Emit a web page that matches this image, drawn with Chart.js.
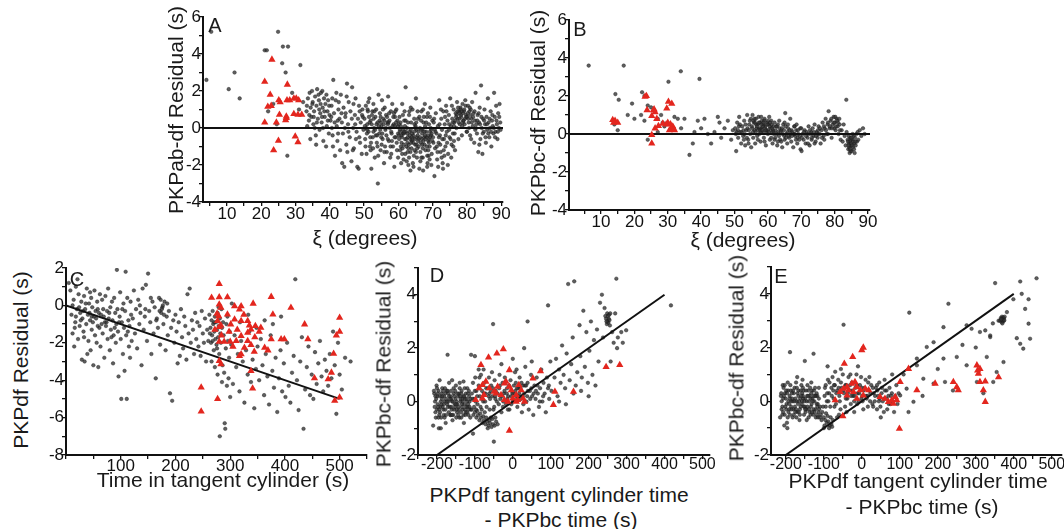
<!DOCTYPE html>
<html><head><meta charset="utf-8">
<script src="https://cdn.jsdelivr.net/npm/chart.js@4.4.1/dist/chart.umd.min.js"></script>
<style>
html,body{margin:0;padding:0;background:#fff}
body{width:1064px;height:529px;overflow:hidden;position:relative;font-family:"Liberation Sans",Arial,Helvetica,sans-serif;color:#1a1a1a}
canvas{position:absolute}
.t{position:absolute;white-space:nowrap;font-size:21px;line-height:1;transform:translate(-50%,-50%)}
.ty{transform:translate(-50%,-50%) rotate(-90deg)}
.L{position:absolute;font-size:20px;line-height:1;transform:translate(-50%,-50%)}
</style></head><body>
<canvas id="cA"></canvas><canvas id="cB"></canvas><canvas id="cC"></canvas><canvas id="cD"></canvas><canvas id="cE"></canvas>
<div class="t ty" style="left:175px;top:110px">PKPab-df Residual (s)</div>
<div class="t" style="left:365px;top:237px">ξ (degrees)</div>
<div class="t ty" style="left:537px;top:113px">PKPbc-df Residual (s)</div>
<div class="t" style="left:743px;top:239px">ξ (degrees)</div>
<div class="t ty" style="left:20px;top:360px">PKPdf Residual (s)</div>
<div class="t" style="left:223px;top:479px">Time in tangent cylinder (s)</div>
<div class="t ty" style="left:383px;top:364px">PKPbc-df Residual (s)</div>
<div class="t" style="left:559px;top:494px">PKPdf tangent cylinder time</div>
<div class="t" style="left:561px;top:519px">- PKPbc time (s)</div>
<div class="t ty" style="left:736px;top:358px">PKPbc-df Residual (s)</div>
<div class="t" style="left:918px;top:480px">PKPdf tangent cylinder time</div>
<div class="t" style="left:922px;top:506px">- PKPbc time (s)</div>
<div class="L" style="left:215px;top:25px">A</div>
<div class="L" style="left:580px;top:29px">B</div>
<div class="L" style="left:77px;top:279px">C</div>
<div class="L" style="left:437px;top:275px">D</div>
<div class="L" style="left:781px;top:276px">E</div>
<script>
// ---------- Panel A: PKPab-df residual vs xi ----------
const aXLabels = [10,20,30,40,50,60,70,80,90];
const aYLabels = [-4,-2,0,2,4,6];
const aZero = [[3,0],[90.5,0]];
const aRed = [[23.1,3.7],[21.0,2.5],[22.6,1.8],[27.6,2.35],[21.9,1.15],[22.9,1.2],[25.1,1.5],[25.5,1.4],[27.5,1.5],[28.3,1.5],[29.5,1.6],[30.2,1.6],[30.9,1.5],[25.3,0.72],[27.3,0.55],[27.1,0.42],[29.5,0.76],[30.7,0.72],[31.8,0.72],[21.0,0.3],[24.4,0.3],[25.0,-0.68],[23.6,-1.2],[29.9,-0.45],[30.7,-0.77],[27.3,0.63]];
const aBlack = [[4,2.6],[5.4,5.2],[10.5,2.1],[12.2,3.0],[13.7,1.6],[21,4.2],[21.6,4.2],[24.9,5.2],[26.1,3.5],[26.3,4.4],[27.8,4.4],[27.1,3.0],[31.4,3.4],[22,0.9],[23.5,1.3],[27.6,-1.5],[31,1.0],[32.2,1.4],[29,1.9],[24.5,0.2],
[33.2,0.9],[33.6,1.6],[33.9,0.4],[34.1,1.9],[34.4,1.1],[34.6,0.6],[34.8,2.0],[35.0,1.4],[35.2,0.2],[35.4,0.9],[35.7,1.7],[35.9,-0.4],[36.1,1.2],[36.3,2.1],[36.5,0.5],[36.8,1.5],[37.0,-0.1],[37.2,0.8],[37.4,1.9],[37.6,0.3],[37.9,1.1],[38.1,-0.7],[38.3,1.6],[38.5,0.6],[38.7,1.3],[38.9,-1.0],[39.1,0.1],[39.3,0.9],[39.5,1.5],[39.7,-0.3],[39.9,0.7],[34.3,-0.6],[36.0,-0.9],[37.8,2.0],[38.0,0.0],[35.6,0.0],[33.4,0.1],[36.9,1.0],[39.0,1.8],[34.9,1.3],
[33.3,1.2],[34.0,0.7],[35.3,0.6],[36.2,0.3],[36.7,1.8],[37.3,1.3],[37.7,0.6],[38.4,0.9],[39.4,0.4],[39.8,1.2],
[40.2,0.4],[40.5,1.2],[40.8,-0.4],[41.0,2.6],[41.2,0.8],[41.5,-1.5],[41.7,1.5],[42.0,0.1],[42.2,-0.7],[42.5,1.0],[42.8,0.5],[43.0,-1.2],[43.2,1.8],[43.5,0.3],[43.8,-0.3],[44.0,1.1],[44.2,-2.1],[44.5,0.6],[44.8,-0.9],[45.0,2.4],[45.3,0.2],[45.5,1.4],[45.8,-0.5],[46.0,0.9],[46.3,-1.8],[46.5,2.2],[46.8,0.0],[47.0,-1.1],[47.3,0.7],[47.5,1.6],[47.8,-0.2],[48.0,-2.1],[48.2,0.5],[48.5,1.2],[48.8,-0.8],[49.0,0.3],[49.3,-1.4],[49.5,1.0],[49.8,-0.1],[40.6,0.0],[41.9,1.9],[43.6,-1.9],[45.1,-1.3],[46.9,1.3],[48.4,-2.2],[49.6,0.6],[42.3,0.4],[44.6,0.8],[47.6,-0.6],[40.9,-1.0],
[40.4,0.6],[41.4,0.3],[42.4,-0.3],[43.4,0.8],[44.4,0.0],[45.4,-0.2],[46.4,0.5],[47.4,0.2],[48.6,-0.5],[49.4,0.7],[40.7,1.6],[42.6,1.4],[44.9,1.7],[46.7,-1.2],[48.7,0.9],
[50.1,0.5],[50.3,-0.6],[50.5,1.2],[50.7,-1.4],[50.9,0.2],[51.1,0.9],[51.3,-0.2],[51.5,1.6],[51.7,-1.0],[51.9,0.4],[52.1,-2.2],[52.3,0.7],[52.5,-0.5],[52.7,1.3],[52.9,0.0],[53.1,-1.6],[53.3,0.6],[53.5,1.0],[53.7,-0.8],[53.9,0.3],[54.0,-3.0],[54.2,1.8],[54.4,-0.3],[54.6,0.8],[54.8,-1.2],[55.0,0.1],[55.2,1.5],[55.4,-0.6],[55.6,0.5],[55.8,-1.9],[56.0,1.1],[56.2,-0.1],[56.4,0.7],[56.6,-1.3],[56.8,0.3],[57.0,1.7],[57.2,-0.7],[57.4,0.4],[57.6,-1.6],[57.8,0.9],[58.0,-0.3],[58.2,1.3],[58.4,-1.0],[58.6,0.2],[58.8,-2.1],[59.0,0.6],[59.2,-0.5],[59.4,1.0],[59.6,-1.2],[59.8,0.1],[50.6,0.0],[51.6,0.3],[52.6,-1.1],[53.6,0.2],[54.5,0.4],[55.5,1.0],[56.5,-0.4],[57.5,0.0],[58.5,0.6],[59.5,-0.8],[51.2,1.4],[52.4,0.9],[53.4,-0.4],[54.7,-0.1],[55.7,0.2],[56.7,0.6],[57.7,-1.0],[58.7,0.8],[59.7,0.4],[55.1,-0.9],
[50.2,0.1],[50.8,-0.3],[51.4,0.6],[51.8,-0.5],[52.2,0.2],[52.8,0.5],[53.2,-0.1],[53.8,-0.4],[54.3,0.1],[54.9,0.3],[55.3,-0.3],[55.9,0.4],[56.3,0.0],[56.9,-0.6],[57.3,0.8],[57.9,-0.2],[58.3,0.1],[58.9,-0.5],[59.3,0.3],[59.9,-0.3],[50.4,-1.0],[51.0,1.0],[52.0,-0.8],[53.0,0.9],[54.1,-1.5],[55.0,-0.5],[56.1,-1.0],[57.1,0.3],[58.1,-0.7],[59.1,0.9],[50.9,-0.1],[52.7,-0.2],[54.8,0.6],[56.9,0.2],[58.9,0.1],[51.9,-1.2],[53.9,-1.0],[55.9,-1.3],[57.9,-1.4],[59.9,-1.6],
[60.1,-0.4],[60.3,0.6],[60.5,-1.2],[60.7,0.1],[60.9,-0.8],[61.1,1.3],[61.3,-0.3],[61.5,-1.7],[61.7,0.4],[61.9,-0.6],[62.1,2.2],[62.3,-1.0],[62.5,0.0],[62.7,-0.5],[62.9,-2.0],[63.1,0.7],[63.3,-0.2],[63.5,-1.3],[63.7,0.3],[63.9,-0.7],[64.1,1.0],[64.3,-0.4],[64.5,-1.5],[64.7,0.2],[64.9,-0.9],[65.1,1.6],[65.3,-0.1],[65.5,-1.1],[65.7,0.5],[65.9,-0.6],[66.1,-2.2],[66.3,0.0],[66.5,-0.8],[66.7,0.9],[66.9,-0.3],[67.1,-1.6],[67.3,0.3],[67.5,-0.5],[67.7,1.3],[67.9,-1.2],[68.1,-0.2],[68.3,0.6],[68.5,-1.9],[68.7,-0.7],[68.9,0.2],[69.1,-1.0],[69.3,1.1],[69.5,-0.4],[69.7,-1.4],[69.9,0.4],
[60.4,-0.1],[61.0,-0.5],[61.6,-0.9],[62.2,-0.2],[62.8,0.3],[63.4,-0.6],[64.0,-0.3],[64.6,0.5],[65.2,-0.5],[65.8,-0.2],[66.4,-1.3],[67.0,-0.1],[67.6,-0.9],[68.2,-0.5],[68.8,-1.5],[69.4,0.0],[60.8,-1.9],[62.0,-1.4],[63.0,-0.9],[64.2,-1.9],[65.4,-1.6],[66.6,0.4],[67.8,0.1],[69.0,-0.6],[61.8,0.9],[63.6,1.1],[65.6,0.9],[67.2,-2.3],[68.4,-2.1],[69.6,-2.0],[60.6,0.3],[62.6,-0.8],[64.8,-0.6],[66.8,-0.6],[68.6,0.8],[61.4,-0.1],[63.8,-1.1],[65.0,0.1],[67.4,0.6],[69.2,-0.2],
[60.2,-0.6],[60.5,-0.2],[60.9,-0.4],[61.2,-1.1],[61.6,-0.3],[61.9,0.1],[62.3,-0.6],[62.6,-0.3],[62.9,-1.1],[63.3,-0.4],[63.6,-0.1],[63.9,-0.5],[64.3,-0.8],[64.6,-0.2],[64.9,0.0],[65.3,-0.9],[65.6,-0.4],[65.9,-1.0],[66.3,-0.5],[66.6,-0.1],[66.9,-0.9],[67.3,-0.7],[67.6,-0.2],[67.9,-0.6],[68.3,-1.0],[68.6,-0.4],[68.9,-0.8],[69.3,-0.5],[69.6,-0.1],[69.9,-0.7],[60.1,0.2],[61.1,-1.4],[62.1,0.4],[63.1,-1.6],[64.1,-0.6],[65.1,-1.3],[66.1,0.6],[67.1,-1.1],[68.1,0.3],[69.1,-1.7],[60.7,-1.0],[61.7,-0.2],[62.7,-1.3],[63.7,-0.8],[64.7,-1.2],[65.7,-0.7],[66.7,-1.6],[67.7,-0.4],[68.7,-1.2],[69.7,-0.3],[61.3,0.7],[63.2,0.9],[65.2,0.3],[67.2,1.0],[69.2,0.6],[62.4,-1.8],[64.4,-2.1],[66.4,-1.8],[68.4,-1.5],[63.5,-2.3],
[70.1,-0.5],[70.3,0.3],[70.5,-2.6],[70.7,-1.1],[70.9,0.8],[71.1,-0.3],[71.3,-1.7],[71.5,0.1],[71.7,-0.8],[71.9,1.5],[72.1,-0.4],[72.3,-1.3],[72.5,0.5],[72.7,-0.1],[72.9,-1.9],[73.1,0.9],[73.3,-0.6],[73.5,0.2],[73.7,-1.0],[73.9,1.2],[74.1,-0.2],[74.3,0.4],[74.5,-1.4],[74.7,0.7],[74.9,-0.5],[75.1,1.6],[75.3,0.1],[75.5,-0.9],[75.7,0.5],[75.9,-0.3],[76.1,1.0],[76.3,0.3],[76.5,-1.2],[76.7,0.8],[76.9,0.0],[77.1,1.4],[77.3,0.5],[77.5,-0.6],[77.7,0.9],[77.9,0.2],[78.1,1.1],[78.3,0.6],[78.5,-0.4],[78.7,1.3],[78.9,0.4],[79.1,0.9],[79.3,0.2],[79.5,1.5],[79.7,0.7],[79.9,-0.2],[70.6,-0.1],[72.0,0.2],[73.4,-1.5],[74.8,-0.1],[76.2,-0.7],[77.6,0.3],[78.8,0.8],[79.4,0.5],[78.2,1.0],[77.0,0.7],
[70.2,-0.8],[70.8,-0.2],[71.2,-1.0],[71.8,-0.5],[72.2,-0.9],[72.8,-0.6],[73.2,-1.2],[73.8,-0.4],[74.2,-0.8],[74.8,0.2],[75.2,-0.6],[75.8,0.3],[76.2,0.1],[76.8,0.6],[77.2,0.9],[77.8,0.5],[78.2,0.7],[78.8,0.3],[79.2,1.0],[79.8,0.6],[76.6,0.4],[77.4,1.1],[78.4,0.9],[79.0,0.4],[79.6,1.2],[78.6,0.1],[77.8,0.8],[76.4,-0.3],[75.4,-1.6],[74.4,-2.0],[73.6,0.6],[72.6,-1.6],[71.4,-1.3],[70.4,0.5],[71.6,-2.1],[72.4,1.0],[73.0,-2.2],[74.0,0.9],[75.6,1.2],[76.0,-1.0],
[80.1,0.6],[80.3,1.2],[80.5,0.3],[80.7,0.9],[80.9,-0.4],[81.1,1.0],[81.3,0.5],[81.5,1.4],[81.7,0.1],[81.9,0.8],[82.1,-0.8],[82.3,0.4],[82.5,1.9],[82.7,0.2],[82.9,-0.3],[83.1,0.7],[83.3,-1.3],[83.5,0.3],[83.7,1.1],[83.9,-0.6],[84.1,2.3],[84.3,0.0],[84.5,-1.4],[84.7,0.5],[84.9,-0.2],[85.1,1.0],[85.3,0.2],[85.5,-0.8],[85.7,0.6],[85.9,-0.1],[86.1,1.6],[86.3,0.3],[86.5,-0.5],[86.7,0.0],[86.9,0.9],[87.1,-1.0],[87.3,0.4],[87.5,0.1],[87.7,-0.3],[87.9,1.9],[88.1,0.6],[88.3,-0.2],[88.5,1.2],[88.7,0.2],[88.9,-0.6],[89.1,0.8],[89.3,0.0],[89.5,1.3],[89.7,0.3],[80.6,0.0],
[80.2,0.8],[80.4,0.5],[80.8,1.1],[81.0,0.7],[81.4,0.3],[81.8,0.6],[82.2,0.9],[82.6,0.0],[83.0,0.4],[83.4,0.8],[83.8,0.2],[84.2,0.6],[84.6,-0.3],[85.0,0.4],[85.4,-0.5],[85.8,0.2],[86.2,-0.3],[86.6,0.5],[87.0,-0.2],[87.4,0.7],[87.8,0.0],[88.2,-0.5],[88.6,0.4],[89.0,-0.2],[89.4,0.6],[89.8,-0.1],[80.0,-0.2],[81.2,-0.6],[82.4,-0.1],[83.6,-0.9]];

// ---------- Panel B: PKPbc-df residual vs xi ----------
const bXLabels = [10,20,30,40,50,60,70,80,90];
const bYLabels = [-4,-2,0,2,4,6];
const bZero = [[0.4,0],[90.6,0]];
const bRed = [[13.5,0.74],[14.2,0.7],[15.0,0.6],[13.8,0.6],[23.2,1.96],[23.6,2.0],[25.7,1.25],[26.2,1.15],[25.2,0.95],[26.7,0.8],[27.2,0.42],[26.2,0.3],[25.9,1.3],[30.2,1.7],[31.2,1.6],[29.7,1.35],[30.0,0.6],[31.0,0.3],[30.5,0.2],[31.5,0.4],[29.5,0.5],[32.0,0.2],[30.8,0.52],[25.2,-0.5],[25.2,-0.05],[23.8,1.26],[28.5,0.55],[31.8,0.25]];
const bBlack = [[6.3,3.6],[16.8,3.6],[14.3,2.1],[15.3,1.8],[19.3,1.6],[18,1.0],[22.3,2.2],[23.0,2.0],[30.2,2.75],[33.9,3.3],[39.5,2.9],[14,0.5],[15,0.2],[20,0.8],[22,1.0],[23,0.7],[24,1.5],[25,1.4],[26,1.2],[27,0.8],[28,1.0],[29,0.4],[24,-0.3],[27,0.1],[28.5,0.6],[32,0.9],[33,0.8],[34,0.3],[35,0.8],[36.5,-1.1],[37.5,-0.5],[38,0.1],[39,0.7],[40,0.3],[41,0.8],[42,0.0],[43,-0.5],[44,0.1],[45,0.9],[45.5,0.6],[46,-0.2],[47,0.3],[48,0.7],[49,-0.3],[49.5,0.2],
[50.2,0.3],[50.5,-0.9],[50.8,0.6],[51.1,-0.2],[51.4,0.9],[51.7,0.1],[52.0,-0.5],[52.3,0.4],[52.6,-0.1],[52.9,0.7],[53.2,-0.6],[53.5,0.2],[53.8,1.0],[54.1,-0.3],[54.4,0.5],[54.7,0.0],[55.0,-0.7],[50.4,0.0],[51.6,0.5],[52.8,-0.3],[53.9,0.3],[54.9,0.8],[51.0,0.2],[53.0,0.0],[54.2,-0.5],
[55.2,0.4],[55.4,1.0],[55.6,-0.2],[55.8,0.6],[56.0,0.2],[56.2,-0.5],[56.4,0.8],[56.6,0.3],[56.8,-0.1],[57.0,0.5],[57.2,0.9],[57.4,0.0],[57.6,0.6],[57.8,-0.4],[58.0,0.3],[58.2,0.7],[58.4,0.1],[58.6,0.5],[58.8,-0.2],[59.0,0.8],[59.2,0.4],[59.4,-0.6],[59.6,0.2],[59.8,0.6],[60.0,0.0],[60.2,0.5],[60.4,0.9],[60.6,-0.3],[60.8,0.3],[61.0,0.7],[61.2,0.1],[61.4,-0.5],[61.6,0.4],[61.8,0.0],[62.0,0.6],[55.5,0.1],[56.5,0.5],[57.5,0.3],[58.5,0.4],[59.5,0.1],[60.5,0.4],[61.5,0.2],[56.1,0.6],[57.1,0.2],[58.1,0.5],[59.1,0.3],[60.1,0.2],[61.1,0.5],[58.9,0.7],[57.9,0.1],
[62.2,-0.2],[62.5,0.4],[62.8,-0.6],[63.1,0.1],[63.4,0.7],[63.7,-0.3],[64.0,0.2],[64.3,-0.7],[64.6,0.5],[64.9,-0.1],[65.2,1.1],[65.5,0.0],[65.8,-0.5],[66.1,0.3],[66.4,-0.2],[66.7,0.8],[67.0,-0.4],[67.3,0.1],[67.6,-0.7],[67.9,0.4],[68.2,-0.1],[68.5,0.2],[68.8,-0.5],[69.1,0.0],[69.4,-0.3],[69.7,0.3],[62.6,0.0],[63.5,0.3],[64.4,0.0],[65.3,0.4],[66.2,-0.1],[67.1,0.2],[68.0,0.0],[68.9,-0.2],[69.8,-0.8],[63.0,-0.4],[65.0,-0.3],[66.8,0.0],[68.6,0.5],
[70.1,-0.9],[70.4,0.0],[70.7,-0.3],[71.0,0.2],[71.3,-0.5],[71.6,0.1],[71.9,-0.2],[72.2,0.4],[72.5,-0.6],[72.8,0.0],[73.1,-0.3],[73.4,0.3],[73.7,-0.1],[74.0,0.5],[74.3,-0.4],[74.6,0.1],[74.9,-0.2],[75.2,0.4],[75.5,0.0],[75.8,-0.5],[76.1,0.2],[76.4,0.6],[76.7,-0.1],[77.0,0.3],[77.3,0.8],[77.6,0.0],[77.9,0.5],[78.2,1.2],[78.5,0.3],[78.8,0.7],[79.1,-0.2],[79.4,0.5],[79.7,0.9],[80.0,0.6],[80.3,0.2],[80.6,0.8],[80.9,0.4],[81.2,0.0],[81.5,0.5],[81.8,-0.3],[73.0,0.1],[75.0,0.2],[76.9,-0.3],[78.0,0.0],[79.9,0.3],
[82.1,0.2],[82.4,-0.4],[82.7,0.5],[83.0,-0.1],[83.5,1.8],[83.3,-0.6],[83.6,0.1],[83.9,-0.3],[84.1,-0.8],[84.3,-0.5],[84.5,-1.0],[84.7,-0.2],[84.9,-0.6],[85.1,-0.9],[85.3,-0.3],[85.5,-0.7],[85.7,-0.1],[85.9,-0.5],[86.1,-0.2],[86.3,-0.6],[86.5,0.0],[86.7,-0.4],[86.9,0.1],[87.1,-0.3],[87.5,0.2],[88.0,-0.1],[88.5,0.3],[89.0,0.0],[84.2,-0.1],[84.8,-0.9],[85.4,0.0],[86.0,-1.0],[84.6,-0.4],[85.0,-0.5],
[50.6,0.1],[51.3,0.4],[52.1,0.1],[52.7,0.2],[53.3,0.5],[53.7,-0.2],[54.3,0.2],[54.6,0.7],[55.3,0.3],[55.7,0.7],[56.3,0.1],[56.7,0.4],[57.3,0.6],[57.7,0.2],[58.3,0.2],[58.7,0.6],[59.3,0.2],[59.7,0.5],[60.3,0.1],[60.7,0.6],[61.3,0.3],[61.7,0.1],[62.3,0.2],[62.7,0.4],[63.3,-0.1],[63.8,0.1],[64.2,0.3],[64.8,0.2],[65.4,-0.2],[65.9,0.1],[66.5,0.2],[67.2,-0.1],[67.8,0.0],[68.4,-0.3],[69.0,0.2],[69.6,-0.1],[70.2,-0.2],[70.8,0.1],[71.4,-0.1],[72.0,0.0],[72.6,0.2],[73.2,-0.2],[73.8,0.1],[74.4,-0.1],[75.0,0.0],[75.6,0.3],[76.2,-0.2],[76.8,0.4],[77.4,0.2],[78.0,0.6],[78.6,0.4],[79.2,0.3],[79.8,0.6],[80.4,0.4],[81.0,0.6],[81.6,0.2],[79.0,0.8],[80.2,0.9],[80.8,0.7],[81.4,0.8],[84.0,-0.4],[84.4,-0.7],[84.8,-0.3],[85.2,-0.6],[85.6,-0.4],[84.6,-0.8],[85.0,-0.2],[85.8,-0.8],[84.2,-0.6],[86.2,-0.4],[56.0,0.8],[58.0,0.9],[60.0,0.7],[62.0,-0.3],[64.0,-0.4],[66.0,0.5],[68.0,0.4],[70.0,0.3],[72.0,-0.5],[74.0,-0.5],[57.0,-0.3],[59.0,-0.4],[61.0,-0.2],[63.0,0.5],[65.0,0.6]];

// ---------- Panel C: PKPdf residual vs time in tangent cylinder ----------
const cXLabels = [100,200,300,400,500];
const cYLabels = [-8,-6,-4,-2,0,2];
const cFit = [[0,0],[500,-5]];
const cRed = [[280,1.15],[266,0.41],[280,0.44],[295,0.44],[280,0.05],[283,-0.12],[276,-0.44],[308,-0.04],[320,-0.04],[317,-0.21],[342,0.1],[375,0.46],[411,-0.12],[378,-0.48],[500,-0.66],[279,-0.57],[277,-0.83],[283,-1.07],[280,-1.15],[295,-0.48],[308,-0.75],[301,-1.01],[320,-0.83],[332,-0.83],[335,-1.07],[338,-1.28],[332,-1.46],[356,-1.19],[353,-1.4],[436,-1.01],[500,-1.4],[494,-1.6],[280,-1.94],[289,-1.94],[300,-1.94],[311,-1.9],[320,-1.63],[332,-1.9],[338,-2.11],[326,-2.26],[375,-1.81],[393,-1.81],[399,-1.81],[442,-1.81],[363,-2.26],[369,-2.4],[344,-2.47],[320,-2.61],[317,-2.7],[280,-2.97],[283,-3.14],[338,-3.5],[489,-2.58],[454,-3.89],[479,-3.94],[485,-3.59],[491,-5.1],[500,-4.92],[247,-4.39],[277,-5.0],[247,-5.67],[341,-4.44],[272,-1.3],[284,-1.6],[298,-1.4],[305,-2.2],[313,-1.3],[325,-0.5],[345,-1.7],[346,-1.1]];
const cBlack = [[5,1.2],[8,0.8],[10,-0.5],[12,-1.5],[14,0.3],[15,-2.2],[17,-0.9],[18,1.0],[20,-0.2],[22,-1.8],[23,0.6],[25,-1.1],[26,-0.4],[28,0.2],[29,-2.9],[30,-0.7],[32,-1.4],[33,0.5],[34,-3.0],[35,-0.2],[37,-1.0],[38,0.9],[40,-0.5],[41,-1.9],[42,0.1],[44,-0.8],[45,-2.4],[46,0.4],[47,-1.3],[48,-0.1],[50,-3.2],[51,-0.6],[52,0.8],[53,-1.6],[54,-0.3],[56,-2.0],[57,0.2],[58,-1.1],[59,-3.3],[60,-0.4],[12,0.0],[18,-0.6],[24,-0.1],[31,-0.3],[36,0.1],[43,-0.4],[49,-0.9],[55,-0.7],[21,1.4],[39,-2.6],[27,-0.8],[44,0.7],[16,-1.2],[33,-1.7],[47,-0.6],[58,-0.2],
[61,-1.2],[62,0.6],[63,-2.2],[64,-0.5],[66,0.3],[67,-1.5],[68,-0.2],[70,-2.8],[71,-0.9],[72,0.5],[73,-1.1],[75,-0.3],[76,-1.8],[77,0.9],[78,-0.7],[80,-2.4],[81,-0.1],[82,-1.3],[84,0.2],[85,-0.8],[86,-3.1],[87,-1.6],[88,0.4],[90,-0.4],[91,-2.0],[92,-1.0],[93,1.9],[94,-0.2],[95,-1.4],[96,-3.8],[98,-0.6],[99,0.7],[100,-1.8],[101,-5.0],[102,-0.9],[104,-2.6],[105,0.1],[106,-1.2],[107,-3.5],[108,-0.3],[109,1.8],[110,-1.6],[111,-5.0],[112,0.4],[114,-0.8],[115,-2.2],[116,-1.1],[118,0.2],[119,-0.5],[120,-1.9],[65,-1.0],[69,-0.6],[74,-0.9],[79,-0.4],[83,-1.7],[89,-1.2],[97,-0.9],[103,-0.2],[113,-1.4],[117,-2.8],
[122,-0.7],[124,0.8],[126,-1.5],[128,-0.2],[130,-2.3],[132,0.3],[134,-1.0],[136,-0.4],[138,-3.2],[140,0.9],[142,-1.3],[144,-0.6],[146,1.1],[148,-1.9],[150,1.7],[152,-0.3],[154,-0.9],[156,-2.6],[158,0.2],[160,-1.5],[162,-0.1],[164,-3.9],[166,-0.7],[168,-1.2],[170,0.4],[172,-2.1],[174,-0.4],[176,-0.1],[178,-1.0],[180,0.2],[182,-2.4],[184,-0.6],[186,-1.6],[188,-0.3],[190,-4.7],[192,-1.2],[194,-5.1],[196,-0.8],[198,-2.0],[200,-0.5],[202,-1.4],[204,-3.1],[206,-0.9],[208,-2.7],[210,-0.2],[212,-1.7],[214,-2.3],[216,-0.6],[218,-1.1],[220,-2.9],[222,0.6],[224,-1.5],[226,0.9],[228,-2.0],[230,-0.8],[232,-1.3],[234,-2.6],[236,-0.4],[238,-1.8],[240,-0.9],[242,-2.2],[244,-1.1],[246,-2.7],[248,-0.3],[250,-1.5],[252,-2.0],[254,-0.7],[256,-3.0],[258,-1.3],[260,-1.9],[175,-0.2],[177,0.0],[173,0.3],[179,-0.5],[171,-0.3],[185,0.1],[155,0.4],[145,-0.2],[135,0.0],[165,-0.8],
[262,-0.5],[264,-1.2],[265,-2.0],[266,-0.8],[267,-1.6],[268,-0.3],[269,-1.0],[270,-2.4],[271,-1.4],[272,-0.6],[273,-1.8],[274,-0.9],[275,-2.1],[276,-1.3],[277,-0.4],[278,-1.7],[279,-1.1],[280,-2.6],[281,-0.7],[282,-1.5],[283,-2.0],[284,-0.2],[285,-1.2],[286,-3.2],[287,-0.9],[288,-1.6],[289,-3.6],[290,-6.3],[291,-6.6],[292,-2.3],[293,-1.0],[294,-4.3],[295,-0.6],[296,-1.9],[297,-3.9],[298,-2.8],[299,-1.4],[300,-4.9],[281,-7.0],[268,-1.9],[271,-0.9],[276,-2.3],[263,-1.5],[279,-0.1],[285,-4.1],[277,-3.7],[272,-3.3],[266,-3.0],
[302,-2.1],[305,-4.2],[308,-1.6],[311,-3.3],[314,-2.6],[317,-4.6],[320,-1.9],[323,-3.0],[326,-5.2],[329,-2.4],[332,-3.7],[335,-1.4],[338,-4.1],[341,-2.9],[344,-5.5],[347,-3.4],[350,-2.2],[353,-4.0],[356,-1.8],[359,-3.2],[362,-4.8],[365,-2.6],[368,-3.8],[371,-5.3],[374,-1.6],[377,-3.5],[380,-4.4],[383,-2.8],[386,-5.7],[389,-3.9],[392,-2.4],[395,-4.6],[398,-3.1],[401,-4.9],[404,-2.0],[407,-4.3],[410,-5.2],[413,-3.6],[416,-2.7],[419,1.4],[422,-4.0],[425,-5.6],[428,-3.0],[431,-1.7],[434,-6.6],[437,-4.5],[440,-3.3],[443,-2.2],[446,-4.8],[449,-3.7],[452,-5.0],[455,-2.5],[458,-4.2],[461,-3.1],[464,-1.9],[467,-3.8],[470,-4.6],[473,-2.9],[476,-3.5],[479,-4.3],[482,-2.6],[485,-3.9],[488,-1.4],[491,-3.2],[494,-5.8],[497,-2.0],[500,-3.7],[504,-4.5],[510,-2.8],[520,-3.0],[303,0.1],[318,-0.9],[333,-0.5],[348,-1.2],[363,-0.8],[378,-1.0],[393,-0.6]];

// ---------- Panel D: PKPbc-df residual vs (PKPdf tangent cylinder time - PKPbc time) ----------
const dXLabels = [-200,-100,0,100,200,300,400,500];
const dYLabels = [-2,0,2,4];
const dFit = [[-200,-2],[400,4]];
const dRed = [[-84,1.37],[-64,1.65],[-42,1.8],[-25,1.96],[-9,1.18],[73,1.14],[53,0.87],[246,1.3],[282,1.37],[111,0.37],[160,0.37],[107,-0.12],[-9,-1.09],[-89,0.5],[-80,0.62],[-76,0.25],[-71,0.75],[-62,0.5],[-49,0.37],[-40,0.56],[-31,0.25],[-22,0.68],[-18,0.75],[-9,0.56],[-4,0.43],[9,0.25],[16,0.62],[22,0.43],[27,0.12],[13,0.06],[0,0.12],[9,0],[31,0],[-98,0.06],[-80,0.12],[-44,0.31],[-13,0],[-22,0.06]];
const dBlack = [[-210,-0.9],[-207,0.3],[-204,-0.4],[-201,0.6],[-198,-0.1],[-195,-1.0],[-192,0.2],[-189,-0.6],[-186,0.5],[-183,-0.3],[-180,0.0],[-177,-0.8],[-174,0.4],[-171,-0.2],[-168,0.7],[-165,-0.5],[-162,0.1],[-159,-0.7],[-156,0.3],[-153,-0.1],[-150,0.6],[-147,-0.4],[-144,0.2],[-141,-0.6],[-138,0.0],[-135,0.4],[-132,-0.3],[-129,-0.8],[-126,0.1],[-123,-0.2],[-120,0.5],[-117,-0.5],[-114,0.0],[-111,-0.3],
[-205,0.0],[-200,-0.3],[-196,0.4],[-191,-0.2],[-187,0.1],[-182,-0.5],[-178,0.3],[-173,-0.1],[-169,-0.4],[-164,0.2],[-160,0.0],[-155,-0.3],[-151,0.1],[-146,-0.1],[-142,0.3],[-137,-0.4],[-133,0.1],[-128,-0.1],[-124,0.3],[-119,-0.2],[-115,0.2],
[-203,-0.6],[-194,-0.5],[-185,-0.2],[-176,0.1],[-166,-0.2],[-157,-0.5],[-148,0.0],[-139,0.2],[-130,-0.5],[-121,0.0],[-112,-0.6],[-199,0.2],[-188,-0.1],[-179,0.5],[-170,0.0],[-161,-0.3],[-152,-0.2],[-143,-0.2],[-134,-0.1],[-125,-0.5],[-116,0.4],[-208,0.4],[-197,-0.2],[-181,0.2],[-163,0.4],[-149,-0.6],[-136,-0.6],[-127,0.5],[-118,-0.1],
[-206,-0.2],[-202,0.1],[-198,0.3],[-194,-0.3],[-190,0.0],[-186,0.2],[-182,-0.1],[-178,-0.3],[-174,0.0],[-170,0.3],[-166,0.1],[-162,-0.2],[-158,0.0],[-154,0.2],[-150,-0.1],[-146,0.3],[-142,-0.3],[-138,0.1],[-134,-0.2],[-130,0.2],[-126,-0.3],[-122,0.1],[-118,0.3],[-114,-0.2],[-204,0.2],[-196,-0.6],[-188,0.3],[-180,-0.6],[-172,0.4],[-164,-0.5],[-156,0.5],[-148,-0.3],[-140,0.5],[-132,0.0],[-124,-0.4],[-116,-0.3],[-200,0.5],[-192,-0.4],[-184,0.4],[-176,-0.5],[-168,0.2],[-160,-0.5],[-152,0.4],[-144,-0.5],[-136,0.3],[-128,0.2],[-120,-0.4],[-112,0.1],
[-172,1.75],[-110,1.75],[-193,0.8],[-160,0.8],[-140,0.7],[-130,0.75],[-190,-1.0],[-105,-1.2],
[-108,-0.3],[-104,-0.5],[-100,-0.4],[-96,-0.6],[-92,-0.5],[-88,-0.7],[-84,-0.6],[-80,-0.8],[-76,-0.7],[-72,-0.85],[-68,-0.75],[-64,-0.9],[-60,-0.8],[-56,-0.95],[-52,-0.85],[-48,-0.9],[-44,-0.75],[-40,-0.85],[-102,-0.2],[-94,-0.35],[-86,-0.45],[-78,-0.55],[-70,-0.6],[-62,-0.7],[-54,-0.65],[-46,-0.6],[-66,-1.0],[-58,-0.6],[-50,-1.5],[-82,-0.3],[-74,-0.4],
[-108,0.3],[-105,0.7],[-102,0.1],[-99,0.9],[-96,0.4],[-93,-0.1],[-90,0.6],[-87,0.2],[-84,1.0],[-81,0.4],[-78,0.0],[-75,0.7],[-72,0.3],[-69,-0.2],[-66,0.5],[-63,0.9],[-60,0.1],[-57,0.6],[-54,0.2],[-51,-0.3],[-48,0.8],[-45,0.4],[-42,0.0],[-52,2.9],[-36,0.5],[-33,0.1],[-30,-0.4],[-27,0.7],[-24,0.3],[-21,0.9],[-18,-0.1],[-15,0.5],[-12,0.2],[-9,-0.3],[-6,0.8],[-3,0.4],[0,0.0],[3,0.6],[6,1.1],[9,0.2],[12,-0.2],[15,0.5],[18,0.9],[21,0.1],[24,-0.4],[27,0.6],[30,0.3],[33,1.3],[36,0.0],[39,0.7],[42,-0.3],[45,0.4],[48,1.0],[51,0.2],[54,-0.5],[57,0.6],[60,0.1],[63,0.9],[66,0.3],[69,-0.2],[72,0.5],[75,1.2],[78,0.0],[81,0.7],[84,0.3],[87,-0.4],[90,0.9],[93,0.5],[96,0.1],[99,1.5],[-98,0.0],[-88,0.9],[-77,1.2],[-62,0.3],[-47,0.2],[-35,1.0],[-25,0.0],[-14,0.1],[-4,-0.1],[7,0.4],[17,0.3],[28,-0.1],[38,0.2],[49,0.5],[61,0.4],[71,0.0],[-100,1.7],[0,1.6],[-90,1.2],[-30,1.4],[50,1.5],[30,2.0],[10,1.2],[-55,1.1],[39,3.0],[93,3.6],
[-106,0.1],[-100,0.4],[-94,0.2],[-88,0.5],[-82,0.1],[-76,0.3],[-70,0.5],[-64,0.2],[-58,0.4],[-52,0.5],[-46,0.1],[-40,0.3],[-34,0.6],[-28,0.2],[-22,0.4],[-16,0.3],[-10,0.6],[-4,0.2],[2,0.3],[8,0.7],[14,0.2],[20,0.5],[26,0.2],[32,0.6],[40,0.4],[46,0.1],[-97,-0.3],[-85,-0.2],[-73,0.0],[-61,-0.3],[-49,-0.2],[-37,-0.1],[-26,-0.2],[-13,-0.3],[-1,0.3],[11,0.5],[23,0.7],[35,0.6],[55,0.3],[65,0.6],[80,0.2],[95,0.6],
[102,0.4],[110,0.9],[114,1.6],[118,0.2],[122,1.2],[126,0.7],[130,2.1],[134,1.0],[138,0.5],[142,1.8],[146,4.4],[150,0.8],[154,1.4],[158,2.4],[162,4.5],[166,0.6],[170,1.1],[176,2.86],[178,1.7],[182,0.9],[186,3.4],[190,1.3],[194,2.6],[198,0.7],[202,1.9],[206,3.0],[210,1.0],[214,2.3],[218,0.6],[222,2.7],[226,1.5],[230,3.7],[235,4.0],[238,2.4],[242,3.5],[244,3.2],[246,3.1],[248,2.9],[249,3.3],[250,3.0],[251,3.2],[252,2.95],[253,3.1],[254,3.25],[255,3.05],[256,2.85],[247,3.0],[257,3.3],[258,1.5],[262,2.6],[266,2.2],[270,3.3],[275,2.0],[277,2.4],[273,4.6],[286,2.6],[290,2.2],[299,2.67],[417,3.6],[122,0.0],[140,-0.1],[160,0.3],[180,0.4],[200,0.2]];

// ---------- Panel E: PKPbc-df residual vs (PKPdf tangent cylinder time - PKPbc time) ----------
const eXLabels = [-200,-100,0,100,200,300,400,500];
const eYLabels = [-2,0,2,4];
const eFit = [[-200,-2],[400,4]];
const eRed = [[-46,1.4],[-24,1.65],[0,1.9],[4,2.0],[123,1.21],[99,-1.02],[101,0.72],[-70,0.04],[-57,0.35],[-48,0.47],[-39,0.53],[-26,0.66],[-18,0.72],[-13,0.53],[-4,0.41],[9,0.47],[18,0.41],[-13,0.1],[4,0.22],[-39,0.22],[-22,0.35],[-35,0.41],[48,0.16],[61,0.1],[70,-0.02],[79,0.04],[88,0.16],[92,0.04],[83,-0.09],[145,0.41],[193,0.66],[241,0.72],[250,0.53],[254,0.41],[303,1.34],[305,1.15],[307,1.03],[311,1.21],[311,0.72],[325,0.74],[320,0.41],[325,-0.02],[360,0.9],[-50,-0.55]];
const eBlack = [[-215,-0.6],[-212,0.3],[-209,-0.2],[-206,0.5],[-203,-0.5],[-200,0.1],[-197,-0.8],[-194,0.4],[-191,-0.3],[-188,0.6],[-185,0.0],[-182,-0.6],[-179,0.3],[-176,-0.2],[-173,0.7],[-170,-0.4],[-167,0.2],[-164,-0.7],[-161,0.4],[-158,-0.1],[-155,0.5],[-152,-0.5],[-149,0.1],[-146,-0.3],[-143,0.6],[-140,-0.6],[-137,0.2],[-134,-0.2],[-131,0.4],[-128,-0.5],[-125,0.0],[-122,-0.3],[-119,0.3],[-116,-0.1],[-113,0.5],[-110,-0.2],
[-211,0.0],[-207,-0.4],[-202,0.3],[-198,-0.1],[-193,0.0],[-189,-0.5],[-184,0.3],[-180,-0.3],[-175,0.1],[-171,0.0],[-166,-0.4],[-162,0.1],[-157,0.3],[-153,-0.2],[-148,-0.4],[-144,0.2],[-139,0.0],[-135,-0.5],[-130,0.1],[-126,0.4],[-121,-0.6],[-117,0.2],[-204,-0.9],[-195,0.7],[-186,-0.2],[-177,0.5],[-168,-0.1],[-159,0.6],[-150,-0.2],[-141,0.4],[-132,-0.1],[-123,0.5],[-114,-0.4],[-208,0.6],[-199,-0.3],[-190,0.2],[-181,0.0],[-172,-0.6],[-163,-0.3],[-154,0.1],[-145,-0.7],[-136,0.5],[-127,-0.3],[-118,-0.5],[-196,-1.0],[-156,0.8],[-133,0.7],[-189,1.83],[-127,1.77],[-150,1.5],[-170,0.9],
[-213,0.2],[-209,-0.5],[-205,0.2],[-201,-0.2],[-197,0.3],[-193,-0.4],[-189,0.1],[-185,-0.3],[-181,0.4],[-177,0.0],[-173,-0.3],[-169,0.3],[-165,0.0],[-161,-0.2],[-157,0.0],[-153,0.4],[-149,-0.3],[-145,0.0],[-141,0.2],[-137,-0.4],[-133,0.3],[-129,0.0],[-125,-0.4],[-121,0.2],[-117,-0.2],[-113,0.1],[-211,-0.3],[-203,0.6],[-195,-0.6],[-187,0.4],[-179,-0.5],[-171,0.5],[-163,-0.5],[-155,0.2],[-147,0.4],[-139,-0.3],[-131,-0.4],[-123,0.2],[-115,-0.6],[-207,0.1],[-199,0.4],[-191,-0.1],[-183,0.1],[-175,-0.4],[-167,0.4],[-159,0.2],[-151,0.0],[-143,-0.2],[-135,0.1],[-127,0.2],[-119,-0.1],
[-112,-0.3],[-108,-0.5],[-104,-0.4],[-100,-0.6],[-96,-0.7],[-92,-0.8],[-88,-0.75],[-84,-0.9],[-80,-0.85],[-76,-0.7],[-106,-0.7],[-98,-0.9],[-90,-0.55],[-94,-0.45],[-86,-1.0],[-82,-0.6],[-102,-0.2],[-110,-0.6],[-78,-0.95],[-100,-1.0],
[-98,0.2],[-95,0.6],[-92,0.0],[-89,0.8],[-86,0.3],[-83,-0.2],[-80,0.5],[-77,0.9],[-74,0.1],[-71,0.6],[-68,-0.1],[-65,0.4],[-62,0.8],[-59,0.2],[-56,-0.3],[-53,0.5],[-50,1.0],[-47,0.3],[-44,-0.2],[-41,0.6],[-38,0.1],[-35,0.9],[-32,0.4],[-29,-0.1],[-26,0.7],[-23,0.2],[-20,-0.4],[-17,0.5],[-14,1.0],[-11,0.3],[-8,0.0],[-5,0.6],[-2,0.9],[1,0.2],[4,-0.3],[7,0.5],[10,0.8],[13,0.1],[16,-0.2],[19,0.4],[22,0.0],[25,0.6],[28,-0.1],[31,0.3],[34,0.0],[37,0.5],[40,-0.3],[43,0.2],[46,0.7],[49,-0.2],[52,0.3],[55,0.0],[58,-0.4],[61,0.4],[64,0.1],[67,-0.3],[70,0.2],[73,0.5],[76,-0.1],[79,0.3],[82,0.0],[85,-0.4],[88,0.2],[91,0.6],[94,-0.1],[97,0.3],[-90,1.3],[-70,1.1],[-48,2.85],[-55,1.2],[-30,1.0],[-10,1.3],[-60,-0.5],[-40,-0.4],[-20,0.0],[0,0.5],[20,0.9],[40,0.6],[60,0.8],[80,1.0],[-95,-0.2],[-75,0.4],[-65,-0.6],[50,-0.6],
[-97,0.5],[-91,0.3],[-85,0.7],[-79,0.2],[-73,0.6],[-67,0.3],[-61,0.5],[-55,0.7],[-49,0.4],[-43,0.6],[-37,0.3],[-31,0.6],[-25,0.4],[-19,0.2],[-13,0.6],[-7,0.3],[-1,0.1],[5,0.4],[11,0.2],[17,0.7],[23,0.3],[29,0.5],[35,0.2],[41,0.4],[47,0.1],[53,0.5],[59,0.1],[65,0.4],[71,-0.1],[77,0.2],[-88,0.0],[-72,-0.2],[-58,0.0],[-42,0.1],[-28,0.2],[-12,-0.1],[2,0.0],[15,0.2],[30,-0.2],[45,0.0],
[101,0.22],[118,0.47],[123,-0.4],[125,3.3],[136,-0.02],[145,1.59],[145,1.34],[162,0.84],[171,2.02],[189,2.2],[189,0.66],[215,2.76],[215,1.59],[219,0.72],[228,3.63],[250,1.65],[276,2.83],[276,1.34],[289,2.7],[303,0.72],[311,2.58],[325,2.64],[329,1.65],[338,2.39],[338,2.45],[346,0.72],[351,4.4],[355,1.09],[360,3.0],[373,1.46],[382,3.32],[399,3.8],[408,2.35],[417,2.14],[417,4.46],[421,4.0],[425,1.96],[430,3.44],[439,3.8],[439,2.89],[443,2.33],[460,4.58],[110,1.0],[160,0.2],[200,1.2],[240,0.4],[265,2.1],[300,2.0],[320,0.3],[345,2.9],
[364,3.0],[366,3.1],[368,2.95],[369,3.15],[370,3.05],[371,3.0],[372,3.12],[373,2.98],[374,3.08],[375,3.02],[367,3.05],[370,2.9],[376,3.15]];

// ---------- drawing ----------
const YW = 30, PT = 12, PR = 12, XH = 26;
const FONT_FAMILY = '"Liberation Sans",Arial,sans-serif';
const pts = arr => arr.map(([x,y]) => ({x, y}));

function axis(min, max, step, labels, isX, pad, size) {
  return {
    type:'linear', min, max,
    afterFit: s => { if (isX) s.height = XH; else s.width = YW; },
    border:{display:true, color:'#111', width:2},
    grid:{display:true, drawOnChartArea:false, drawTicks:true, tickLength:4, color:'#111', lineWidth:1.3},
    ticks:{stepSize:step, autoSkip:false, includeBounds:false, maxRotation:0, minRotation:0, padding:pad,
      color:'#111', font:{family:FONT_FAMILY, size:size},
      callback: v => labels.includes(v) ? String(v) : ''}
  };
}

function panel(id, box, xr, yr, xStep, xLabels, yLabels, black, red, line, xPad, xSize) {
  const c = document.getElementById(id);
  const w = box.r - box.l + YW + PR, h = box.b - box.t + PT + XH;
  c.width = w; c.height = h;
  c.style.left = (box.l - YW) + 'px'; c.style.top = (box.t - PT) + 'px';
  c.style.width = w + 'px'; c.style.height = h + 'px';
  new Chart(c, {
    type:'scatter',
    data:{datasets:[
      {data:pts(red), pointStyle:'triangle', pointRadius:4.2, backgroundColor:'#e3261e', borderWidth:0, order:0},
      {type:'line', data:pts(line), borderColor:'#111', borderWidth:2, pointRadius:0, showLine:true, fill:false, order:1},
      {data:pts(black), pointRadius:1.8, backgroundColor:'rgba(50,50,50,0.78)', borderColor:'rgba(20,20,20,0.65)', borderWidth:0.6, order:2}
    ]},
    options:{
      responsive:false, animation:false, devicePixelRatio:1, events:[],
      layout:{padding:{top:PT, right:PR, left:0, bottom:0}},
      plugins:{legend:{display:false}, tooltip:{enabled:false}},
      scales:{x:axis(xr[0], xr[1], xStep, xLabels, true, xPad, xSize), y:axis(yr[0], yr[1], 1, yLabels, false, -2, 17)}
    }
  });
}

panel('cA', {l:203, t:17, r:503, b:202}, [3, 90.5], [-4, 6], 5, aXLabels, aYLabels, aBlack, aRed, aZero, -2, 17);
panel('cB', {l:569, t:20, r:870, b:210}, [0.4, 90.6], [-4, 6], 5, bXLabels, bYLabels, bBlack, bRed, bZero, -2, 17);
panel('cC', {l:66, t:268, r:367, b:455}, [0, 550], [-8, 2], 50, cXLabels, cYLabels, cBlack, cRed, cFit, -3, 17);
panel('cD', {l:418, t:268, r:710, b:455}, [-250, 520], [-2, 5], 50, dXLabels, dYLabels, dBlack, dRed, dFit, -4, 16);
panel('cE', {l:771, t:267, r:1062, b:455}, [-239, 527], [-2, 5], 50, eXLabels, eYLabels, eBlack, eRed, eFit, -4, 16);
</script>
</body></html>
